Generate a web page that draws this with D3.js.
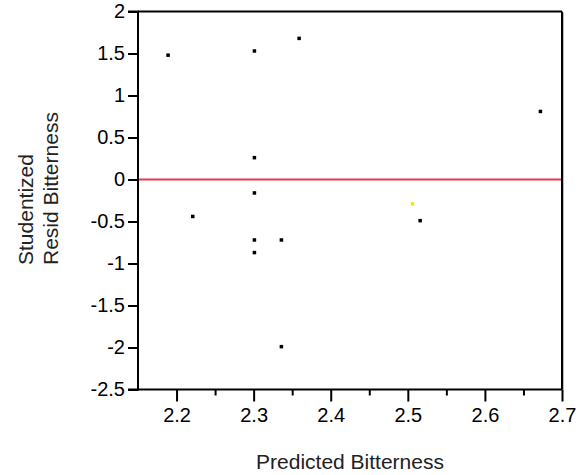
<!DOCTYPE html>
<html><head><meta charset="utf-8">
<script src="https://cdn.jsdelivr.net/npm/d3@7"></script>
<style>body{margin:0;background:#fff;} svg{display:block;font-family:"Liberation Sans",Arial,sans-serif;}</style>
</head><body>
<svg id="c" width="581" height="475"></svg>
<script>
const predicted = [2.189, 2.301, 2.359, 2.301, 2.301, 2.221, 2.516, 2.301, 2.336, 2.301, 2.336, 2.672];
const residuals = [1.48, 1.53, 1.68, 0.26, -0.16, -0.44, -0.49, -0.72, -0.72, -0.87, -1.99, 0.81];
const highlightPredicted = [2.506];
const highlightResidual = [-0.29];
const xTicks = [2.2, 2.3, 2.4, 2.5, 2.6, 2.7];
const xMinorTicks = [2.25, 2.35, 2.45, 2.55, 2.65];
const yTicks = [2, 1.5, 1, 0.5, 0, -0.5, -1, -1.5, -2, -2.5];

const svg = d3.select("#c");
const L = 138, R = 562, T = 11.5, B = 389.5;
const x = d3.scaleLinear().domain([2.15, 2.7]).range([L, R]);
const y = d3.scaleLinear().domain([-2.5, 2]).range([B, T]);

// frame top and right
svg.append("line").attr("x1", L).attr("x2", R).attr("y1", T).attr("y2", T).attr("stroke", "#000").attr("stroke-width", 2);
svg.append("line").attr("x1", R).attr("x2", R).attr("y1", T).attr("y2", B).attr("stroke", "#000").attr("stroke-width", 2);
svg.append("line").attr("x1", R + 1.5).attr("x2", R + 1.5).attr("y1", T + 1).attr("y2", B).attr("stroke", "#bbb").attr("stroke-width", 1);

const fmt = d => String(d); // plain hyphen-minus as in the reference

// y axis
const yAxis = d3.axisLeft(y).tickValues(yTicks).tickSize(10).tickPadding(3).tickFormat(fmt);
const gy = svg.append("g").attr("transform", `translate(${L},0)`).call(yAxis);
gy.select(".domain").attr("stroke-width", 2).attr("d", `M-10,${T}H0V${B}H-10`);
gy.selectAll(".tick line").attr("stroke-width", 2);
gy.selectAll(".tick text").attr("font-size", 20).attr("fill", "#000").attr("font-family", "Liberation Sans, Arial, sans-serif");

// x axis major
const xAxis = d3.axisBottom(x).tickValues(xTicks).tickSize(12).tickPadding(6).tickFormat(d3.format(".1f"));
const gx = svg.append("g").attr("transform", `translate(0,${B})`).call(xAxis);
gx.select(".domain").attr("stroke-width", 2).attr("d", `M${L},0H${R}`);
gx.selectAll(".tick line").attr("stroke-width", 2);
gx.selectAll(".tick text").attr("font-size", 20).attr("fill", "#000").attr("font-family", "Liberation Sans, Arial, sans-serif");
// minor ticks
const xMinor = d3.axisBottom(x).tickValues(xMinorTicks).tickSize(6).tickFormat("");
const gxm = svg.append("g").attr("transform", `translate(0,${B})`).call(xMinor);
gxm.select(".domain").remove();
gxm.selectAll(".tick line").attr("stroke-width", 2);

// zero reference line
svg.append("line").attr("x1", L + 1).attr("x2", R - 1).attr("y1", y(0)).attr("y2", y(0))
  .attr("stroke", "#dd3b55").attr("stroke-width", 2);

// points
const pts = predicted.map((p, i) => ({p, r: residuals[i]}));
svg.append("g").selectAll("rect").data(pts).join("rect")
  .attr("x", d => x(d.p) - 1.75).attr("y", d => y(d.r) - 1.75)
  .attr("width", 3.5).attr("height", 3.5).attr("fill", "#000");
const hpts = highlightPredicted.map((p, i) => ({p, r: highlightResidual[i]}));
svg.append("g").selectAll("rect").data(hpts).join("rect")
  .attr("x", d => x(d.p) - 1.75).attr("y", d => y(d.r) - 1.75)
  .attr("width", 3.5).attr("height", 3.5).attr("fill", "#f2e21a");

// axis titles
svg.append("text").attr("x", 350).attr("y", 469).attr("text-anchor", "middle")
  .attr("font-size", 21).attr("fill", "#222").text("Predicted Bitterness");
const yt = svg.append("text").attr("transform", "translate(0,265) rotate(-90)")
  .attr("font-size", 21).attr("fill", "#222");
yt.append("tspan").attr("x", 0).attr("y", 33).text("Studentized");
yt.append("tspan").attr("x", 0).attr("y", 58).text("Resid Bitterness");
</script>
</body></html>
